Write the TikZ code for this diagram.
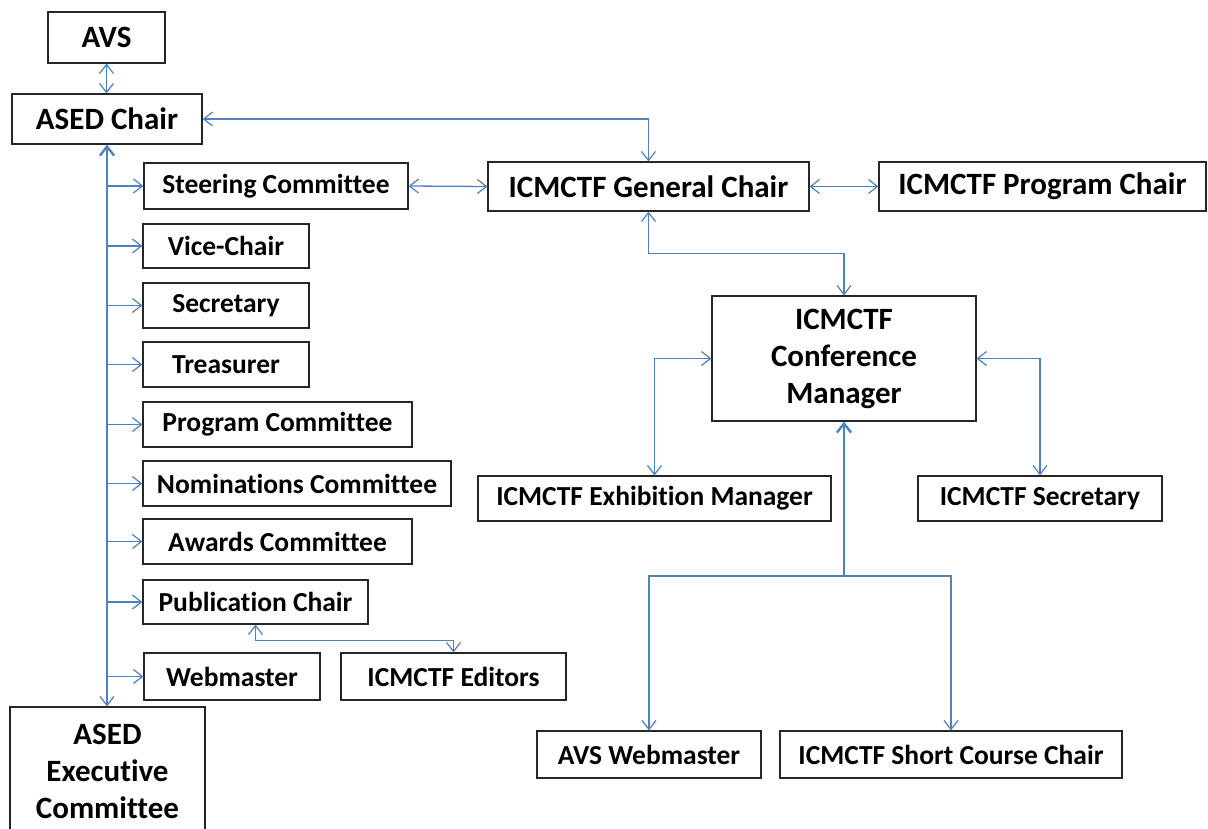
\documentclass[tikz,border=0pt]{standalone}
\usepackage{fontspec}
\setmainfont{Carlito}[Ligatures=NoCommon]
\usetikzlibrary{arrows.meta}
\definecolor{linkblue}{RGB}{79,129,189}
\begin{document}
\begin{tikzpicture}[x=1pt,y=-1pt,
  box/.style={draw=black!85, line width=1.2pt, inner sep=0pt, align=center, font=\bfseries\fontsize{27.5}{36}\selectfont},
  bigbox/.style={box, font=\bfseries\fontsize{31}{37}\selectfont},
  tip/.tip={Straight Barb[length=9pt,width=14pt,line width=1.2pt]},
  conn/.style={draw=linkblue, line width=1.3pt, arrows={tip-tip}},
  trunk/.style={draw=linkblue, line width=2.6pt},
]
\clip (0,0) rectangle (1208,828);
\fill[white] (0,0) rectangle (1208,828);

% left column: society officers
\node[bigbox, minimum width=117, minimum height=51] (avs) at (106.5,37.5) {AVS};
\node[bigbox, minimum width=190, minimum height=50] (asedchair) at (107,119) {ASED Chair};
\node[box, minimum width=264, minimum height=46] (steer) at (276,186) {Steering Committee};
\node[box, minimum width=166, minimum height=44] (vice) at (226,246) {Vice-Chair};
\node[box, minimum width=166, minimum height=45] (secr) at (226,305.5) {Secretary};
\node[box, minimum width=166, minimum height=45] (treas) at (226,364.5) {Treasurer};
\node[box, minimum width=269, minimum height=45] (progc) at (277.5,424.5) {Program Committee};
\node[box, minimum width=308, minimum height=45] (nomin) at (297,483.5) {Nominations Committee};
\node[box, minimum width=269, minimum height=45] (awards) at (277.5,541.5) {Awards Committee};
\node[box, minimum width=225, minimum height=44] (pub) at (255.5,602) {Publication Chair};
\node[box, minimum width=176, minimum height=47] (web) at (232,676.5) {Webmaster};
\node[box, minimum width=225, minimum height=47] (editors) at (453.5,676.5) {ICMCTF Editors};
\node[bigbox, minimum width=195, minimum height=128] (exec) at (107.5,771) {ASED\\Executive\\Committee};

% right part: conference organisation
\node[bigbox, minimum width=321, minimum height=49] (gen) at (648.5,186.5) {ICMCTF General Chair};
\node[bigbox, minimum width=327, minimum height=49] (prog) at (1042.5,186.5) {ICMCTF Program Chair};
\node[bigbox, minimum width=264, minimum height=125] (conf) at (844,358.5) {ICMCTF\\Conference\\Manager};
\node[box, minimum width=353, minimum height=45] (exhib) at (654.5,498.5) {ICMCTF Exhibition Manager};
\node[box, minimum width=244, minimum height=45] (icsec) at (1040,498.5) {ICMCTF Secretary};
\node[box, minimum width=224, minimum height=47] (avsweb) at (649,754.5) {AVS Webmaster};
\node[box, minimum width=342, minimum height=47] (short) at (951,754.5) {ICMCTF Short Course Chair};

% connectors on the left
\draw[conn] (avs.south) -- (avs.south |- asedchair.north);
\draw[conn] (asedchair.east) -| (gen.north);
\draw[trunk, arrows={-{Straight Barb[length=9pt,width=14pt,line width=2.4pt]}}] (asedchair.south |- exec.north) ++(0,-14) coordinate (trunkend) -- (asedchair.south);
\draw[conn, arrows={-tip}] (trunkend) -- (asedchair.south |- exec.north);
\foreach \b in {steer,vice,secr,treas,progc,nomin,awards,pub,web}
  \draw[conn, arrows={-tip}] (asedchair.south |- \b.west) -- (\b.west);
\draw[conn] (pub.south) -- ++(0,16) -| (editors.north);

% connectors on the right
\draw[conn] (steer.east) -- (gen.west);
\draw[conn] (gen.east) -- (prog.west);
\draw[conn] (gen.south) -- ++(0,42) -| (conf.north);
\draw[conn] (conf.west) -| (exhib.north);
\draw[conn] (conf.east) -| (icsec.north);
\draw[trunk, arrows={-{Straight Barb[length=9pt,width=14pt,line width=2.4pt]}}] (conf.south |- 0,576) coordinate (split) -- (conf.south);
\draw[conn, arrows={-tip}] (split) -| (avsweb.north);
\draw[conn, arrows={-tip}] (split) -| (short.north);
\end{tikzpicture}
\end{document}
